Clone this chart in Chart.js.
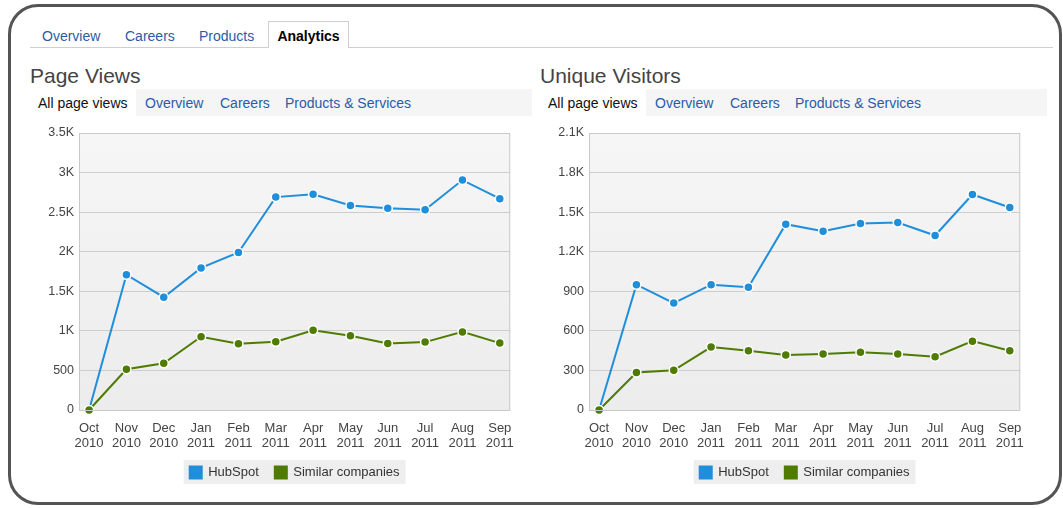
<!DOCTYPE html>
<html lang="en">
<head>
  <meta charset="UTF-8"/>
  <title>Analytics - Page Views / Unique Visitors</title>
  <script src="https://cdn.jsdelivr.net/npm/chart.js"></script>
  <style>
    body {
      margin: 0;
      width: 1063px;
      height: 508px;
      background: #fff;
      font-family: "Liberation Sans", Arial, sans-serif;
      position: relative;
      overflow: hidden;
    }
    .frame {
      position: absolute;
      left: 8px; top: 4px;
      width: 1054px; height: 501px;
      box-sizing: border-box;
      border: 3px solid #545454;
      border-radius: 30px;
    }
    .tabline {
      position: absolute;
      left: 30px; top: 47px;
      width: 1023px; height: 1px;
      background: #cfcfcf;
    }
    .tab {
      position: absolute;
      top: 28px;
      font-size: 14px;
      line-height: 16px;
      color: #2a5ca8;
    }
    .tab.active {
      top: 21px;
      left: 268px;
      width: 81px; height: 27px;
      box-sizing: border-box;
      border: 1px solid #cfcfcf;
      border-bottom: none;
      background: #fff;
      color: #000;
      font-weight: bold;
      text-align: center;
      line-height: 29px;
    }
    .title {
      position: absolute;
      top: 64px;
      font-size: 21px;
      line-height: 24px;
      color: #444;
    }
    .subbar {
      position: absolute;
      top: 89px;
      height: 27px;
      background: #f5f5f5;
    }
    .subbar .first {
      position: absolute;
      left: 0; top: 0;
      width: 106px; height: 27px;
      background: #fff;
    }
    .sub {
      position: absolute;
      top: 95px;
      font-size: 14px;
      line-height: 16px;
      color: #2a5ca8;
    }
    .sub.on { color: #111; }
    .chart-box {
      position: absolute;
      top: 120px;
      width: 501px;
      height: 369px;
    }
  </style>
</head>
<body>
<div class="frame"></div>

<!-- Tabs -->
<div class="tabline"></div>
<span class="tab" style="left:42px">Overview</span>
<span class="tab" style="left:125px">Careers</span>
<span class="tab" style="left:199px">Products</span>
<div class="tab active">Analytics</div>

<!-- Headings -->
<div class="title" style="left:30px">Page Views</div>
<div class="title" style="left:540px">Unique Visitors</div>

<div class="subbar" style="left:30px;width:502px"><div class="first"></div></div>
<span class="sub on" style="left:38px">All page views</span>
<span class="sub" style="left:145px">Overview</span>
<span class="sub" style="left:220px">Careers</span>
<span class="sub" style="left:285px">Products &amp; Services</span>

<div class="subbar" style="left:540px;width:507px"><div class="first"></div></div>
<span class="sub on" style="left:548px">All page views</span>
<span class="sub" style="left:655px">Overview</span>
<span class="sub" style="left:730px">Careers</span>
<span class="sub" style="left:795px">Products &amp; Services</span>

<!-- Charts -->
<div class="chart-box" style="left:24px"><canvas id="viewsChart"></canvas></div>
<div class="chart-box" style="left:534px"><canvas id="visitorsChart"></canvas></div>

<script>
  const months = ['Oct 2010', 'Nov 2010', 'Dec 2010', 'Jan 2011', 'Feb 2011', 'Mar 2011',
                  'Apr 2011', 'May 2011', 'Jun 2011', 'Jul 2011', 'Aug 2011', 'Sep 2011'];

  const viewsHubSpot = [0, 1710, 1425, 1795, 1990, 2690, 2725, 2585, 2548, 2530, 2905, 2670];
  const viewsSimilar = [0, 515, 590, 925, 837, 862, 1008, 937, 841, 858, 987, 845];

  const visitorsHubSpot = [0, 950, 811, 950, 930, 1409, 1356, 1414, 1421, 1323, 1634, 1535];
  const visitorsSimilar = [0, 284, 301, 477, 449, 417, 424, 437, 424, 404, 522, 449];

  const viewsTicks = { max: 3500, step: 500 };
  const visitorsTicks = { max: 2100, step: 300 };

  const seriesNames = ['HubSpot', 'Similar companies'];
  const blue = '#1f8edb';
  const green = '#4e7b00';

  // plot background + frame, and the grey box behind the legend
  const backdrop = {
    id: 'backdrop',
    beforeDraw(chart) {
      const { ctx, chartArea: a } = chart;
      ctx.save();
      const g = ctx.createLinearGradient(0, a.top, 0, a.bottom);
      g.addColorStop(0, '#f6f6f6');
      g.addColorStop(1, '#ececec');
      ctx.fillStyle = g;
      ctx.fillRect(a.left, a.top, a.right - a.left, a.bottom - a.top);

      const boxes = chart.legend.legendHitBoxes;
      if (boxes.length) {
        const first = boxes[0], last = boxes[boxes.length - 1];
        ctx.fillStyle = '#eeeeee';
        ctx.fillRect(first.left - 6, first.top - 6, last.left + last.width - first.left + 12, first.height + 11);
      }
      ctx.restore();
    },
    afterDatasetsDraw(chart) {
      const { ctx, chartArea: a } = chart;
      ctx.save();
      ctx.strokeStyle = '#c9c9c9';
      ctx.lineWidth = 1;
      ctx.strokeRect(a.left + 0.5, a.top + 0.5, a.right - a.left - 1, a.bottom - a.top);
      ctx.restore();
    }
  };

  function fmtK(v) {
    return v >= 1000 ? (v / 1000) + 'K' : v;
  }

  function makeChart(id, hub, sim, yt) {
    const toPts = arr => arr.map((v, i) => ({ x: i, y: v }));
    const ds = (label, data, color, order) => ({
      label: label,
      data: toPts(data),
      borderColor: color,
      backgroundColor: color,
      borderWidth: 2,
      pointRadius: 4.5,
      pointBackgroundColor: color,
      pointBorderColor: '#fff',
      pointBorderWidth: 1.5,
      tension: 0,
      clip: false,
      order: order
    });

    return new Chart(document.getElementById(id), {
      type: 'line',
      data: {
        datasets: [ds(seriesNames[0], hub, blue, 1), ds(seriesNames[1], sim, green, 0)]
      },
      options: {
        responsive: true,
        maintainAspectRatio: false,
        animation: false,
        layout: { padding: { top: 13, right: 10, left: 0, bottom: 0 } },
        plugins: {
          tooltip: { enabled: false },
          legend: {
            position: 'bottom',
            fullSize: false,
            labels: {
              boxWidth: 12,
              boxHeight: 12,
              padding: 16,
              color: '#333',
              font: { family: '"Liberation Sans", Arial, sans-serif', size: 13 },
              sort: (a, b) => a.datasetIndex - b.datasetIndex
            }
          }
        },
        scales: {
          x: {
            type: 'linear',
            min: -0.27,
            max: 11.28,
            afterBuildTicks: s => { s.ticks = months.map((_, i) => ({ value: i })); },
            afterFit: s => { s.height = 40; },
            grid: { display: false, drawTicks: false },
            border: { display: false },
            ticks: {
              padding: 11,
              maxRotation: 0,
              autoSkip: false,
              color: '#444',
              font: { family: '"Liberation Sans", Arial, sans-serif', size: 13, lineHeight: 1.15 },
              callback: v => months[v] ? months[v].split(' ') : ''
            }
          },
          y: {
            min: 0,
            max: yt.max,
            afterFit: s => { s.width = 55; },
            grid: { color: '#cdcdcd', drawTicks: false },
            border: { display: false },
            ticks: {
              stepSize: yt.step,
              padding: 5,
              color: '#444',
              font: { family: '"Liberation Sans", Arial, sans-serif', size: 12.5 },
              callback: fmtK
            }
          }
        }
      },
      plugins: [backdrop]
    });
  }

  makeChart('viewsChart', viewsHubSpot, viewsSimilar, viewsTicks);
  makeChart('visitorsChart', visitorsHubSpot, visitorsSimilar, visitorsTicks);
</script>
</body>
</html>
